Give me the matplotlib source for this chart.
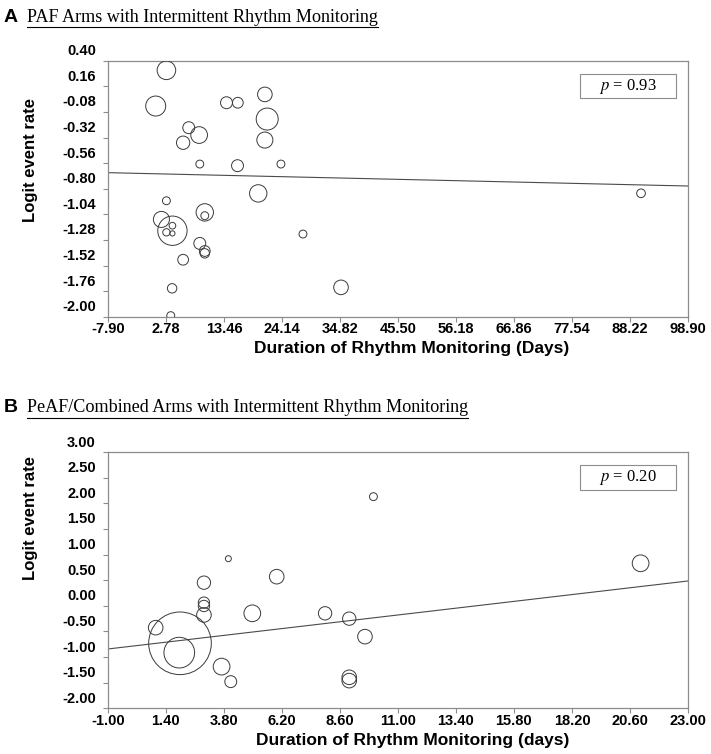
import numpy as np
import matplotlib
matplotlib.use('Agg')
import matplotlib.pyplot as plt
import matplotlib.transforms as mtransforms
from matplotlib.patches import Rectangle
from matplotlib.lines import Line2D

plt.rcParams['mathtext.fontset'] = 'stix'

# Panel A: PAF arms
a_days = [2.86, 0.89, 6.98, 8.89, 5.94, 13.93, 16.02, 21.0, 21.43, 21.0,
          9.01, 15.96, 23.96, 19.78, 2.86, 9.93, 9.93, 1.94, 3.97, 3.97,
          2.86, 3.97, 28.02, 9.01, 9.93, 9.93, 5.94, 3.91, 35.03, 3.66, 90.3]
a_logit = [0.31, -0.025, -0.228, -0.297, -0.369, 0.006, 0.006, 0.084, -0.147, -0.344,
           -0.569, -0.584, -0.569, -0.844, -0.913, -1.022, -1.053, -1.088, -1.194, -1.147,
           -1.209, -1.219, -1.225, -1.313, -1.384, -1.406, -1.466, -1.734, -1.725, -1.99, -0.843]
a_weight = [7.8, 9.0, 3.2, 6.3, 4.0, 3.2, 2.6, 4.8, 10.9, 5.8,
            1.4, 3.2, 1.4, 6.8, 1.4, 6.8, 1.4, 5.8, 19.4, 1.0,
            1.2, 0.6, 1.4, 3.2, 2.6, 2.0, 2.6, 2.0, 4.8, 1.4, 1.7]
a_fit = [-0.659, -0.00117]   # intercept, slope
a_p = '0.93'
a_xticks = [-7.90, 2.78, 13.46, 24.14, 34.82, 45.50, 56.18, 66.86, 77.54, 88.22, 98.90]
a_yticks = [0.40, 0.16, -0.08, -0.32, -0.56, -0.80, -1.04, -1.28, -1.52, -1.76, -2.00]

# Panel B: PeAF / combined arms
b_days = [0.985, 1.99, 1.96, 2.98, 2.98, 2.98, 2.98, 3.99, 3.71, 4.09,
          4.98, 5.99, 7.99, 8.99, 9.64, 8.99, 8.99, 9.99, 21.04]
b_logit = [-0.427, -0.732, -0.914, 0.451, 0.061, -0.004, -0.179, 0.919, -1.187, -1.48,
           -0.147, 0.568, -0.147, -0.251, -0.602, -1.395, -1.46, 2.129, 0.829]
b_weight = [4.8, 88.4, 21.2, 4.0, 2.9, 2.9, 4.8, 0.8, 6.3, 3.2,
            6.3, 4.8, 4.0, 4.0, 4.8, 4.8, 4.8, 1.4, 6.3]
b_fit = [-0.788, 0.0553]
b_p = '0.20'
b_xticks = [-1.00, 1.40, 3.80, 6.20, 8.60, 11.00, 13.40, 15.80, 18.20, 20.60, 23.00]
b_yticks = [3.00, 2.50, 2.00, 1.50, 1.00, 0.50, 0.00, -0.50, -1.00, -1.50, -2.00]

W, H = 711, 754
fig = plt.figure(figsize=(W / 100, H / 100), dpi=100)
fig.patch.set_facecolor('white')

SANS = 'Liberation Sans'
SERIF = 'Liberation Serif'
GREY = '#8c8c8c'


def draw_panel(rect, days, logit, weight, fit, xticks, yticks, p_text):
    ax = fig.add_axes(rect)
    ax.scatter(days, logit, s=np.array(weight) * 23.0, facecolors='none',
               edgecolors='#3a3a3a', linewidths=0.7, zorder=3)
    xs = np.array([xticks[0], xticks[-1]])
    ax.plot(xs, fit[0] + fit[1] * xs, color='#4a4a4a', lw=0.8, zorder=2)

    ax.set_xlim(xticks[0], xticks[-1])
    ax.set_ylim(yticks[-1], yticks[0])
    ax.set_xticks(xticks)
    ax.set_xticklabels(['%.2f' % t for t in xticks])
    ax.set_yticks(yticks)
    ax.set_yticklabels(['%.2f' % t for t in yticks])
    for sp in ax.spines.values():
        sp.set_color(GREY)
        sp.set_linewidth(0.9)
    ax.tick_params(axis='both', colors=GREY, length=3.5, width=0.8,
                   labelsize=10.5, labelcolor='black')
    ax.tick_params(axis='x', pad=0.5)
    ax.tick_params(axis='y', pad=5)
    for lab in ax.get_xticklabels() + ax.get_yticklabels():
        lab.set_fontfamily(SANS)
        lab.set_fontweight('bold')
    # y labels sit about half a step above their ticks in the source figure
    shift = mtransforms.ScaledTranslation(0, 7.9 / 72, fig.dpi_scale_trans)
    for lab in ax.get_yticklabels():
        lab.set_transform(lab.get_transform() + shift)

    # p-value box
    ax.add_patch(Rectangle((0.814, 0.853), 0.166, 0.095, transform=ax.transAxes,
                           fill=False, edgecolor=GREY, lw=0.8, zorder=4))
    ax.text(0.897, 0.900, r'$p$ = ' + p_text, transform=ax.transAxes,
            ha='center', va='center', fontsize=12, family=SERIF, zorder=5)
    return ax


ax_a = draw_panel([108 / W, 1 - 316.7 / H, 579.7 / W, 256 / H],
                  a_days, a_logit, a_weight, a_fit, a_xticks, a_yticks, a_p)
ax_b = draw_panel([107.7 / W, 1 - 708.3 / H, 580.3 / W, 256.3 / H],
                  b_days, b_logit, b_weight, b_fit, b_xticks, b_yticks, b_p)

# axis titles
fig.text(30 / W, 1 - 160 / H, 'Logit event rate', rotation=90, ha='center', va='center',
         fontsize=12, fontweight='bold', family=SANS)
fig.text(30 / W, 1 - 518 / H, 'Logit event rate', rotation=90, ha='center', va='center',
         fontsize=12, fontweight='bold', family=SANS)
fig.text(412 / W, 1 - 348 / H, 'Duration of Rhythm Monitoring (Days)', ha='center',
         va='center', fontsize=12.5, fontweight='bold', family=SANS)
fig.text(413 / W, 1 - 740 / H, 'Duration of Rhythm Monitoring (days)', ha='center',
         va='center', fontsize=12.5, fontweight='bold', family=SANS)

# panel headings, underlined
headings = []
for letter, title, yc in [('A', 'PAF Arms with Intermittent Rhythm Monitoring', 17),
                          ('B', 'PeAF/Combined Arms with Intermittent Rhythm Monitoring', 408)]:
    fig.text(4 / W, 1 - yc / H, letter, ha='left', va='center', fontsize=14,
             fontweight='bold', family=SANS)
    t = fig.text(27 / W, 1 - yc / H, title, ha='left', va='center', fontsize=13.1,
                 family=SERIF)
    headings.append(t)

fig.canvas.draw()
renderer = fig.canvas.get_renderer()
for t in headings:
    bb = t.get_window_extent(renderer).transformed(fig.transFigure.inverted())
    yline = bb.y0 - 1.5 / H
    fig.add_artist(Line2D([bb.x0, bb.x1], [yline, yline], transform=fig.transFigure,
                          color='black', lw=0.8))

fig.savefig('out.png', dpi=100, facecolor='white')
